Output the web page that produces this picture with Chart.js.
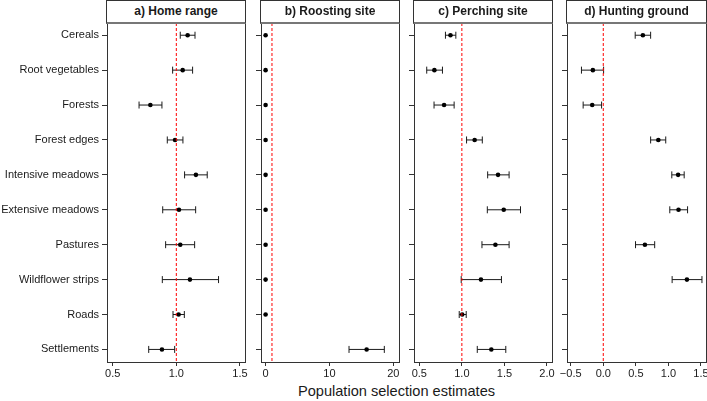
<!DOCTYPE html>
<html>
<head>
<meta charset="utf-8">
<script src="https://cdn.jsdelivr.net/npm/chart.js@4.4.1/dist/chart.umd.min.js"></script>
<style>
  html, body { margin:0; padding:0; background:#fff; width:707px; height:401px; overflow:hidden; position:relative; font-family:"Liberation Sans", Arial, sans-serif; }
  .wrap { position:absolute; top:0; height:401px; }
  .strip { position:absolute; top:0; height:21px; box-sizing:content-box; border:1px solid #333; border-bottom:2px solid #777; background:#fff;
           font-weight:bold; font-size:12px; color:#1a1a1a; text-align:center; line-height:21px; z-index:2; }
  .xtitle { position:absolute; top:383px; left:0; width:793px; text-align:center; font-size:14.6px; color:#1a1a1a; }
</style>
</head>
<body>
<div class="xtitle">Population selection estimates</div>
<script>
// ---- data ----
const categories = ["Cereals","Root vegetables","Forests","Forest edges","Intensive meadows","Extensive meadows","Pastures","Wildflower strips","Roads","Settlements"];
const panelTitles = ["a) Home range","b) Roosting site","c) Perching site","d) Hunting ground"];

const homeEst   = [1.089, 1.050, 0.796, 0.990, 1.154, 1.021, 1.031, 1.107, 1.018, 0.887];
const homeLo    = [1.031, 0.971, 0.707, 0.929, 1.065, 0.893, 0.916, 0.890, 0.974, 0.783];
const homeHi    = [1.147, 1.128, 0.887, 1.052, 1.243, 1.152, 1.144, 1.332, 1.063, 0.987];

const roostEst  = [0, 0, 0, 0, 0, 0, 0, 0, 0, 15.83];
const roostLo   = [null, null, null, null, null, null, null, null, null, 13.07];
const roostHi   = [null, null, null, null, null, null, null, null, null, 18.60];

const perchEst  = [0.866, 0.677, 0.791, 1.150, 1.425, 1.492, 1.394, 1.224, 1.004, 1.346];
const perchLo   = [0.807, 0.587, 0.673, 1.055, 1.303, 1.299, 1.236, 0.992, 0.969, 1.181];
const perchHi   = [0.929, 0.772, 0.909, 1.240, 1.555, 1.689, 1.555, 1.465, 1.051, 1.516];

const huntEst   = [0.608, -0.160, -0.170, 0.845, 1.149, 1.155, 0.639, 1.284, null, null];
const huntLo    = [0.490, -0.335, -0.309, 0.727, 1.052, 1.021, 0.495, 1.057, null, null];
const huntHi    = [0.727, 0.005, -0.026, 0.959, 1.242, 1.294, 0.789, 1.515, null, null];

const homeTicks  = [0.5, 1.0, 1.5];
const homeTickLabels  = ["0.5", "1.0", "1.5"];
const roostTicks = [0, 10, 20];
const roostTickLabels = ["0", "10", "20"];
const perchTicks = [0.5, 1.0, 1.5, 2.0];
const perchTickLabels = ["0.5", "1.0", "1.5", "2.0"];
const huntTicks  = [-0.5, 0.0, 0.5, 1.0, 1.5];
const huntTickLabels  = ["\u22120.5", "0.0", "0.5", "1.0", "1.5"];

const refValues = [1, 1, 1, 0];

// ---- layout ----
const panels = [
  {est: homeEst,  lo: homeLo,  hi: homeHi,  ticks: homeTicks,  labels: homeTickLabels,  min: 0.455, max: 1.54,  left: 107, right: 245, canvasLeft: 0},
  {est: roostEst, lo: roostLo, hi: roostHi, ticks: roostTicks, labels: roostTickLabels, min: -0.72, max: 20.9,  left: 261, right: 399, canvasLeft: 240},
  {est: perchEst, lo: perchLo, hi: perchHi, ticks: perchTicks, labels: perchTickLabels, min: 0.4375, max: 2.059, left: 414, right: 552, canvasLeft: 393},
  {est: huntEst,  lo: huntLo,  hi: huntHi,  ticks: huntTicks,  labels: huntTickLabels,  min: -0.557, max: 1.577, left: 567, right: 706, canvasLeft: 546}
];

const Y_MIN = -0.35, Y_MAX = 9.36;
const TOP = 23, BOTTOM = 362;
const FONT = "'Liberation Sans', Arial, sans-serif";

panels.forEach((p, pi) => {
  const rightPad = 14;
  const cw = p.right - p.canvasLeft + rightPad;
  const wrap = document.createElement('div');
  wrap.className = 'wrap';
  wrap.style.left = p.canvasLeft + 'px';
  wrap.style.width = cw + 'px';
  const cv = document.createElement('canvas');
  wrap.appendChild(cv);
  document.body.appendChild(wrap);

  const strip = document.createElement('div');
  strip.className = 'strip';
  strip.style.left = (p.left - 1) + 'px';
  strip.style.width = (p.right - p.left) + 'px';
  strip.textContent = panelTitles[pi];
  document.body.appendChild(strip);

  const datasets = [];
  // reference line (drawn on top)
  datasets.push({
    data: [{x: refValues[pi], y: Y_MIN}, {x: refValues[pi], y: Y_MAX}],
    showLine: true, borderColor: '#ff0000', borderWidth: 1, borderDash: [3, 2],
    pointRadius: 0
  });
  // points
  datasets.push({
    data: p.est.map((v, i) => v === null ? null : {x: v, y: i}).filter(d => d),
    pointRadius: 2.3, pointBackgroundColor: '#000', pointBorderColor: '#000', pointBorderWidth: 0
  });
  // caps
  const caps = [];
  p.est.forEach((v, i) => {
    if (p.lo[i] !== null) { caps.push({x: p.lo[i], y: i}); caps.push({x: p.hi[i], y: i}); }
  });
  datasets.push({
    data: caps, pointStyle: 'line', rotation: 90, pointRadius: 3.5,
    pointBorderColor: '#1a1a1a', pointBorderWidth: 1
  });
  // whiskers
  p.est.forEach((v, i) => {
    if (p.lo[i] !== null) {
      datasets.push({
        data: [{x: p.lo[i], y: i}, {x: p.hi[i], y: i}],
        showLine: true, borderColor: '#1a1a1a', borderWidth: 1, pointRadius: 0
      });
    }
  });

  new Chart(cv, {
    type: 'scatter',
    data: { datasets },
    options: {
      responsive: true, maintainAspectRatio: false, animation: false,
      devicePixelRatio: 1,
      layout: { padding: { left: 0, right: rightPad, top: TOP, bottom: 0 } },
      plugins: { legend: { display: false }, tooltip: { enabled: false } },
      events: [],
      scales: {
        x: {
          type: 'linear', min: p.min, max: p.max, position: 'bottom',
          afterBuildTicks: s => { s.ticks = p.ticks.map(v => ({value: v})); },
          afterFit: s => { s.height = 401 - BOTTOM; },
          ticks: {
            callback: (v) => p.labels[p.ticks.indexOf(v)] ?? '',
            font: { family: FONT, size: 11 }, color: '#1a1a1a', padding: 1, maxRotation: 0, autoSkip: false
          },
          grid: { drawOnChartArea: false, drawTicks: true, tickLength: 4, color: '#333', tickWidth: 1 },
          border: { display: true, color: '#333', width: 1 }
        },
        y: {
          type: 'linear', min: Y_MIN, max: Y_MAX, reverse: true, position: 'left',
          afterBuildTicks: s => { s.ticks = categories.map((c, i) => ({value: i})); },
          afterFit: s => { s.width = p.left - p.canvasLeft; },
          ticks: {
            display: pi === 0,
            callback: (v) => categories[v] ?? '',
            font: { family: FONT, size: 11 }, color: '#1a1a1a', padding: 3, autoSkip: false
          },
          grid: { drawOnChartArea: false, drawTicks: true, tickLength: 5, color: '#333', tickWidth: 1 },
          border: { display: true, color: '#333', width: 1 }
        },
        y2: {
          type: 'linear', min: Y_MIN, max: Y_MAX, position: 'right',
          afterFit: s => { s.width = 0; },
          ticks: { display: false },
          grid: { display: false },
          border: { display: true, color: '#333', width: 1 }
        }
      }
    }
  });
});
</script>
</body>
</html>
